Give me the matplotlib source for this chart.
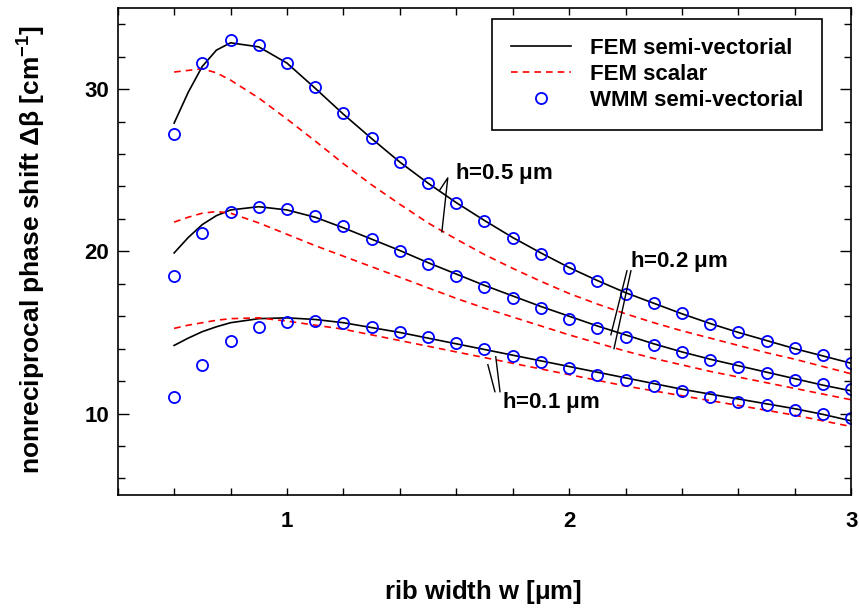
import matplotlib
matplotlib.use('Agg')
import matplotlib.pyplot as plt
from matplotlib.ticker import MultipleLocator

plt.rcParams['font.family'] = ['Liberation Sans', 'DejaVu Sans']
plt.rcParams['font.weight'] = 'bold'
plt.rcParams['mathtext.fontset'] = 'custom'
plt.rcParams['mathtext.rm'] = 'Liberation Sans'
plt.rcParams['mathtext.it'] = 'Liberation Sans'
plt.rcParams['mathtext.bf'] = 'Liberation Sans:bold'

# rib width w [um] for the FEM curves
w_fem = [0.6, 0.65, 0.7, 0.75, 0.8, 0.9, 1.0, 1.1, 1.2, 1.3, 1.4, 1.5, 1.6, 1.7,
         1.8, 1.9, 2.0, 2.1, 2.2, 2.3, 2.4, 2.5, 2.6, 2.7, 2.8, 2.9, 3.0]

fem_vec_h05 = [27.9, 29.8, 31.4, 32.4, 32.85, 32.6, 31.6, 30.05, 28.45, 26.95, 25.5, 24.2,
               23.0, 21.9, 20.85, 19.9, 19.0, 18.2, 17.45, 16.8, 16.15, 15.55, 15.0,
               14.5, 14.0, 13.55, 13.1]
fem_sca_h05 = [31.05, 31.15, 31.25, 31.0, 30.55, 29.45, 28.15, 26.8, 25.4, 24.1, 22.9,
               21.75, 20.75, 19.8, 18.95, 18.15, 17.4, 16.75, 16.15, 15.6, 15.1, 14.65,
               14.2, 13.75, 13.35, 12.9, 12.45]
fem_vec_h02 = [19.9, 20.85, 21.65, 22.2, 22.55, 22.75, 22.55, 22.1, 21.45, 20.75, 20.05,
               19.3, 18.6, 17.9, 17.25, 16.6, 16.0, 15.4, 14.85, 14.3, 13.8, 13.35, 12.95,
               12.55, 12.15, 11.75, 11.4]
fem_sca_h02 = [21.8, 22.1, 22.35, 22.45, 22.35, 21.75, 21.05, 20.35, 19.7, 19.05, 18.4,
               17.75, 17.1, 16.5, 15.95, 15.4, 14.85, 14.35, 13.85, 13.4, 13.0, 12.6,
               12.25, 11.9, 11.55, 11.2, 10.85]
fem_vec_h01 = [14.2, 14.65, 15.05, 15.35, 15.6, 15.85, 15.9, 15.8, 15.6, 15.3, 15.0,
               14.65, 14.3, 13.95, 13.6, 13.25, 12.9, 12.55, 12.2, 11.85, 11.5, 11.2,
               10.9, 10.6, 10.3, 9.95, 9.55]
fem_sca_h01 = [15.25, 15.45, 15.6, 15.75, 15.85, 15.9, 15.7, 15.45, 15.2, 14.85, 14.5,
               14.15, 13.8, 13.45, 13.1, 12.75, 12.4, 12.05, 11.7, 11.4, 11.1, 10.8,
               10.5, 10.2, 9.9, 9.55, 9.2]

# WMM points
w_wmm = [0.6, 0.7, 0.8, 0.9, 1.0, 1.1, 1.2, 1.3, 1.4, 1.5, 1.6, 1.7, 1.8,
         1.9, 2.0, 2.1, 2.2, 2.3, 2.4, 2.5, 2.6, 2.7, 2.8, 2.9, 3.0]
wmm_h05 = [27.2, 31.6, 33.0, 32.7, 31.6, 30.1, 28.5, 27.0, 25.5, 24.2, 23.0, 21.85, 20.8,
           19.85, 19.0, 18.2, 17.4, 16.8, 16.2, 15.5, 15.0, 14.5, 14.05, 13.6, 13.1]
wmm_h02 = [18.5, 21.1, 22.4, 22.75, 22.6, 22.15, 21.55, 20.75, 20.05, 19.2, 18.5, 17.8, 17.1,
           16.5, 15.8, 15.3, 14.7, 14.2, 13.8, 13.3, 12.9, 12.5, 12.1, 11.8, 11.5]
wmm_h01 = [11.0, 13.0, 14.5, 15.35, 15.65, 15.7, 15.6, 15.35, 15.0, 14.7, 14.35, 13.95, 13.55,
           13.2, 12.8, 12.4, 12.1, 11.7, 11.4, 11.0, 10.7, 10.5, 10.2, 10.0, 9.7]

fig = plt.figure(figsize=(8.59, 6.10), dpi=100)
ax = fig.add_axes([0.137, 0.189, 0.854, 0.798])

vec_style = dict(color='black', lw=1.2)
sca_style = dict(color='red', lw=1.2, ls=(0, (4, 3)))
wmm_style = dict(ls='none', marker='o', ms=8, mfc='none', mec='blue', mew=1.3)

ax.plot(w_fem, fem_vec_h05, label='FEM semi-vectorial', **vec_style)
ax.plot(w_fem, fem_sca_h05, label='FEM scalar', **sca_style)
ax.plot(w_wmm, wmm_h05, label='WMM semi-vectorial', **wmm_style)
for vec, sca, wmm in [(fem_vec_h02, fem_sca_h02, wmm_h02), (fem_vec_h01, fem_sca_h01, wmm_h01)]:
    ax.plot(w_fem, vec, **vec_style)
    ax.plot(w_fem, sca, **sca_style)
    ax.plot(w_wmm, wmm, **wmm_style)

# h labels with their pointer lines
lk = dict(color='black', lw=1.0)
ax.plot([1.542, 1.570, 1.549], [23.79, 24.53, 21.20], **lk)
ax.text(1.595, 24.78, r'h=0.5 $\mu$m', fontsize=16, fontweight='bold', va='center')
ax.plot([2.148, 2.205], [14.86, 18.80], **lk)
ax.plot([2.159, 2.219], [14.0, 18.80], **lk)
ax.text(2.216, 19.36, r'h=0.2 $\mu$m', fontsize=16, fontweight='bold', va='center')
ax.plot([1.712, 1.737], [13.01, 11.35], **lk)
ax.plot([1.740, 1.755], [13.50, 11.35], **lk)
ax.text(1.762, 10.67, r'h=0.1 $\mu$m', fontsize=16, fontweight='bold', va='center')

ax.set_xlim(0.4, 3.0)
ax.set_ylim(5, 35)
ax.xaxis.set_major_locator(MultipleLocator(1))
ax.xaxis.set_minor_locator(MultipleLocator(0.2))
ax.yaxis.set_major_locator(MultipleLocator(10))
ax.yaxis.set_minor_locator(MultipleLocator(2))
ax.tick_params(which='both', direction='in', top=True, right=True, width=1.0, labelsize=16)
ax.tick_params(axis='x', which='both', length=5, pad=12)
ax.tick_params(axis='y', which='major', length=8, pad=6)
ax.tick_params(axis='y', which='minor', length=5)
for lab in ax.get_xticklabels() + ax.get_yticklabels():
    lab.set_fontweight('bold')
for sp in ax.spines.values():
    sp.set_linewidth(1.2)

ax.set_xlabel(r'rib width w [$\mu$m]', fontsize=18.5, fontweight='bold')
ax.set_ylabel(r'nonreciprocal phase shift $\Delta\beta$ [cm$^{-1}$]', fontsize=19, fontweight='bold')
ax.xaxis.set_label_coords(0.498, -0.172)
ax.yaxis.set_label_coords(-0.095, 0.503)

leg = ax.legend(loc='upper right', bbox_to_anchor=(0.960, 0.977), fontsize=16, frameon=True,
                fancybox=False, framealpha=1, edgecolor='black', handlelength=2.7,
                handletextpad=0.85, labelspacing=0.22, borderpad=0.85, borderaxespad=0)
leg.get_frame().set_linewidth(1.2)

fig.savefig('out.png', dpi=100)
